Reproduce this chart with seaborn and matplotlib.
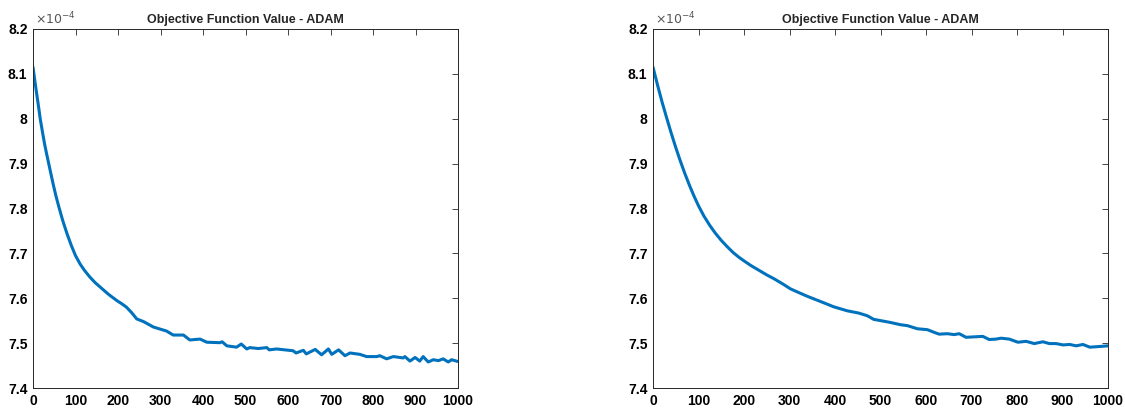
import matplotlib
matplotlib.use("Agg")
import matplotlib.pyplot as plt
import seaborn as sns

# Zielfunktionswerte (in Einheiten von 1e-4)
iter_left = [0, 4, 8, 12, 17, 22, 27, 32, 37, 42, 48, 54, 61, 70, 80, 90, 100,
             111, 122, 134, 146, 158, 170, 180, 190, 197, 210, 220, 232, 244, 260, 283,
             300, 314, 330, 354, 369, 393, 409, 440, 445, 456, 479,
             490, 503, 510, 530, 550, 556, 573, 612, 619, 636, 643,
             664, 679, 695, 703, 719, 734, 746, 769, 785, 809,
             816, 832, 848, 871, 875, 887, 899, 910, 918, 930,
             942, 954, 965, 977, 985, 1000]
obj_left = [8.115, 8.087, 8.06, 8.034, 8.0, 7.972, 7.945, 7.922, 7.9, 7.878, 7.852, 7.828, 7.803, 7.773, 7.744, 7.718, 7.695,
            7.676, 7.661, 7.647, 7.635, 7.625, 7.615, 7.607, 7.600, 7.595, 7.587, 7.580, 7.568, 7.554, 7.548, 7.536,
            7.531, 7.527, 7.518, 7.518, 7.507, 7.509, 7.502, 7.501, 7.503, 7.494, 7.491,
            7.498, 7.487, 7.490, 7.488, 7.490, 7.485, 7.487, 7.483, 7.478, 7.484, 7.476,
            7.486, 7.474, 7.487, 7.475, 7.485, 7.472, 7.478, 7.475, 7.470, 7.470,
            7.472, 7.465, 7.470, 7.467, 7.470, 7.460, 7.468, 7.460, 7.470, 7.458,
            7.463, 7.461, 7.465, 7.458, 7.463, 7.459]

iter_right = [0, 10, 20, 30, 40, 50, 60, 70, 80, 90, 100, 112, 125, 137, 150, 163,
              176, 188, 199, 215, 235, 250, 265, 285, 302, 324, 340, 360, 380, 397, 427, 452,
              471, 485, 522, 544, 559, 581, 603, 618, 629, 647,
              662, 673, 688, 706, 725, 739, 754, 765, 783, 802,
              820, 838, 857, 871, 886, 901, 916, 930, 945, 960,
              975, 1000]
obj_right = [8.115, 8.075, 8.037, 8.002, 7.968, 7.936, 7.906, 7.878, 7.852, 7.828, 7.806, 7.783, 7.762, 7.745, 7.729, 7.715,
             7.702, 7.692, 7.684, 7.673, 7.661, 7.652, 7.644, 7.632, 7.621, 7.611, 7.604, 7.596, 7.588, 7.581, 7.572, 7.567,
             7.561, 7.553, 7.546, 7.541, 7.539, 7.532, 7.530, 7.524, 7.520, 7.521,
             7.519, 7.521, 7.513, 7.514, 7.515, 7.508, 7.509, 7.511, 7.509, 7.502,
             7.504, 7.499, 7.503, 7.499, 7.499, 7.496, 7.497, 7.494, 7.497, 7.491,
             7.492, 7.494]

x_ticks = list(range(0, 1001, 100))
y_ticks = [7.4, 7.5, 7.6, 7.7, 7.8, 7.9, 8.0, 8.1, 8.2]
y_labels = ["7.4", "7.5", "7.6", "7.7", "7.8", "7.9", "8", "8.1", "8.2"]
title = "Objective Function Value - ADAM"

sns.set_style("white")
plt.rcParams["font.family"] = ["Liberation Sans", "DejaVu Sans"]

fig = plt.figure(figsize=(11.25, 4.12), dpi=100)
ax1 = fig.add_axes([33 / 1125, 24 / 412, 425 / 1125, 359 / 412])
ax2 = fig.add_axes([653 / 1125, 24 / 412, 455 / 1125, 359 / 412])

for ax, xs, ys in [(ax1, iter_left, obj_left), (ax2, iter_right, obj_right)]:
    sns.lineplot(x=xs, y=ys, ax=ax, color="#0072BD", linewidth=2.2)
    ax.set_xlim(0, 1000)
    ax.set_ylim(7.4, 8.2)
    ax.set_xticks(x_ticks)
    ax.set_xticklabels([str(t) for t in x_ticks], fontweight="bold", fontsize=10)
    ax.set_yticks(y_ticks)
    ax.set_yticklabels(y_labels, fontweight="bold", fontsize=10)
    ax.tick_params(direction="in", length=4, width=0.6, top=True, right=True,
                   colors="#262626", labelcolor="black", pad=4)
    for s in ax.spines.values():
        s.set_color("#262626")
        s.set_linewidth(0.7)
    ax.set_title(title, fontweight="bold", fontsize=9, pad=4)
    ax.text(0.005, 1.005, r"$\times10^{-4}$", transform=ax.transAxes,
            ha="left", va="bottom", fontsize=9, color="#555555")

fig.savefig("out.png", dpi=100)
plt.close()
